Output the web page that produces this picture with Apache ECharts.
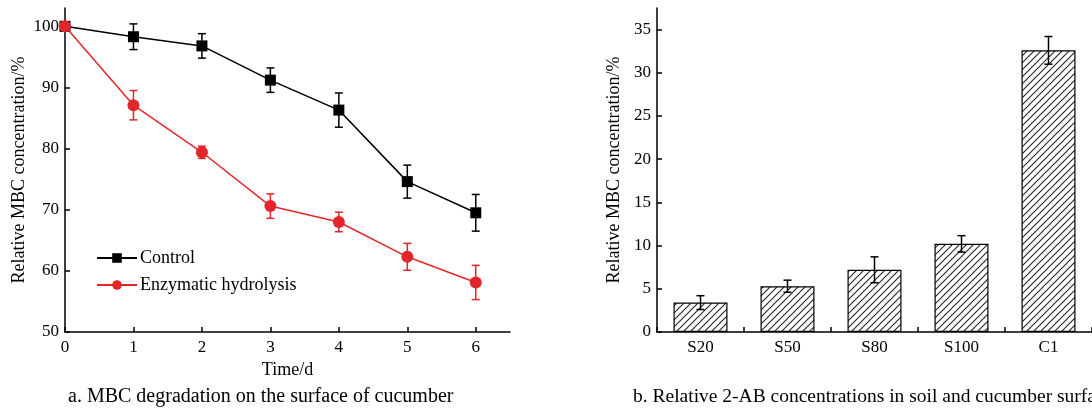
<!DOCTYPE html>
<html>
<head>
<meta charset="utf-8">
<script src="https://cdn.jsdelivr.net/npm/echarts@6/dist/echarts.min.js"></script>
<style>
  html, body { margin: 0; padding: 0; background: #fff; }
  #main { width: 1092px; height: 409px; }
</style>
</head>
<body>
<div id="main"></div>
<script>
var chart = echarts.init(document.getElementById('main'));

// ---- panel a: degradation over time ----
const days = [0, 1, 2, 3, 4, 5, 6];
const controlVals = [100, 98.3, 96.8, 91.2, 86.3, 74.6, 69.5];
const controlErr = [0, 2.1, 2.0, 2.0, 2.8, 2.7, 3.0];
const enzymeVals = [100, 87.1, 79.4, 70.6, 68.0, 62.3, 58.1];
const enzymeErr = [0, 2.4, 1.0, 2.0, 1.6, 2.2, 2.8];

// ---- panel b: relative concentrations ----
const groups = ['S20', 'S50', 'S80', 'S100', 'C1'];
const groupVals = [3.4, 5.3, 7.2, 10.2, 32.6];
const groupErr = [0.8, 0.7, 1.5, 0.95, 1.6];

const FONT = 'Liberation Serif';
const RED = '#e3262a';

// hatch pattern for the bars
function hatch() {
    var s = 7;
    var c = document.createElement('canvas');
    c.width = s; c.height = s;
    var g = c.getContext('2d');
    g.fillStyle = '#fff';
    g.fillRect(0, 0, s, s);
    g.strokeStyle = '#222';
    g.lineWidth = 1.1;
    for (var k = -1; k <= 1; k++) {
        g.beginPath();
        g.moveTo(-1 + k * s, s + 1);
        g.lineTo(s + 1 + k * s, -1);
        g.stroke();
    }
    return c;
}

// error bars drawn from [x, low, high]
function errBars(color, cap) {
    return function (params, api) {
        var lo = api.coord([api.value(0), api.value(1)]);
        var hi = api.coord([api.value(0), api.value(2)]);
        var st = { stroke: color, lineWidth: 1.5 };
        return {
            type: 'group',
            children: [
                { type: 'line', shape: { x1: lo[0], y1: lo[1], x2: hi[0], y2: hi[1] }, style: st },
                { type: 'line', shape: { x1: lo[0] - cap, y1: lo[1], x2: lo[0] + cap, y2: lo[1] }, style: st },
                { type: 'line', shape: { x1: hi[0] - cap, y1: hi[1], x2: hi[0] + cap, y2: hi[1] }, style: st }
            ]
        };
    };
}

function errData(xs, vals, errs) {
    var out = [];
    for (var i = 0; i < vals.length; i++) {
        if (errs[i] > 0) out.push([xs[i], vals[i] - errs[i], vals[i] + errs[i]]);
    }
    return out;
}

const axisLine = { show: true, lineStyle: { color: '#000', width: 1.5 } };
const tick = { show: true, inside: true, length: 5, lineStyle: { color: '#000', width: 1.5 } };
const label = { color: '#000', fontFamily: FONT, fontSize: 17 };
const nameStyle = { color: '#000', fontFamily: FONT, fontSize: 18 };

var option = {
    animation: false,
    textStyle: { fontFamily: FONT },
    graphic: [
        {
            type: 'text', left: 68, top: 387,
            style: { text: 'a. MBC degradation on the surface of cucumber', fill: '#000', font: '20px "Liberation Serif"' }
        },
        {
            type: 'text', left: 633, top: 387,
            style: { text: 'b. Relative 2-AB concentrations in soil and cucumber surface', fill: '#000', font: '19.5px "Liberation Serif"' }
        }
    ],
    legend: {
        left: 91,
        top: 244,
        orient: 'vertical',
        itemWidth: 40,
        itemHeight: 12,
        itemGap: 9,
        textStyle: { color: '#000', fontFamily: FONT, fontSize: 18, padding: [0, 0, 0, -2] },
        data: ['Control', 'Enzymatic hydrolysis']
    },
    grid: [
        { left: 65, top: 8, right: 582, bottom: 77 },
        { left: 657, top: 8, right: -8, bottom: 77 }
    ],
    xAxis: [
        {
            gridIndex: 0, type: 'value', min: 0, max: 6.5, interval: 1,
            name: 'Time/d', nameLocation: 'middle', nameGap: 27,
            nameTextStyle: nameStyle,
            axisLine: axisLine, axisTick: tick, splitLine: { show: false },
            axisLabel: Object.assign({ margin: 7, showMaxLabel: false }, label)
        },
        {
            gridIndex: 1, type: 'category', data: groups,
            axisLine: axisLine,
            axisTick: Object.assign({ alignWithLabel: false, interval: 0 }, tick),
            axisLabel: Object.assign({ margin: 7, interval: 0 }, label)
        }
    ],
    yAxis: [
        {
            gridIndex: 0, type: 'value', min: 50, max: 103, interval: 10,
            name: 'Relative MBC concentration/%', nameLocation: 'middle', nameGap: 37,
            nameTextStyle: nameStyle,
            axisLine: axisLine, axisTick: tick, splitLine: { show: false },
            axisLabel: Object.assign({ margin: 6, showMaxLabel: false }, label)
        },
        {
            gridIndex: 1, type: 'value', min: 0, max: 37.5, interval: 5,
            name: 'Relative MBC concentration/%', nameLocation: 'middle', nameGap: 34,
            nameTextStyle: nameStyle,
            axisLine: axisLine, axisTick: tick, splitLine: { show: false },
            axisLabel: Object.assign({ margin: 6, showMaxLabel: false }, label)
        }
    ],
    series: [
        {
            name: 'Control', type: 'line', xAxisIndex: 0, yAxisIndex: 0,
            data: days.map((d, i) => [d, controlVals[i]]),
            symbol: 'rect', symbolSize: 11,
            itemStyle: { color: '#000' },
            lineStyle: { color: '#000', width: 1.5 },
            z: 3
        },
        {
            name: 'Enzymatic hydrolysis', type: 'line', xAxisIndex: 0, yAxisIndex: 0,
            data: days.map((d, i) => [d, enzymeVals[i]]),
            symbol: 'circle', symbolSize: 12,
            itemStyle: { color: RED },
            lineStyle: { color: RED, width: 1.5 },
            z: 4
        },
        {
            type: 'custom', xAxisIndex: 0, yAxisIndex: 0,
            renderItem: errBars('#000', 4),
            data: errData(days, controlVals, controlErr), z: 5
        },
        {
            type: 'custom', xAxisIndex: 0, yAxisIndex: 0,
            renderItem: errBars(RED, 4),
            data: errData(days, enzymeVals, enzymeErr), z: 5
        },
        {
            type: 'bar', xAxisIndex: 1, yAxisIndex: 1,
            data: groupVals, barWidth: 54,
            itemStyle: {
                color: { image: hatch(), repeat: 'repeat' },
                borderColor: '#000', borderWidth: 1.2
            }
        },
        {
            type: 'custom', xAxisIndex: 1, yAxisIndex: 1,
            renderItem: errBars('#000', 4),
            data: errData(groups, groupVals, groupErr), z: 5
        }
    ]
};

chart.setOption(option);

window.addEventListener('resize', function () {
    chart.resize();
});
</script>
</body>
</html>
